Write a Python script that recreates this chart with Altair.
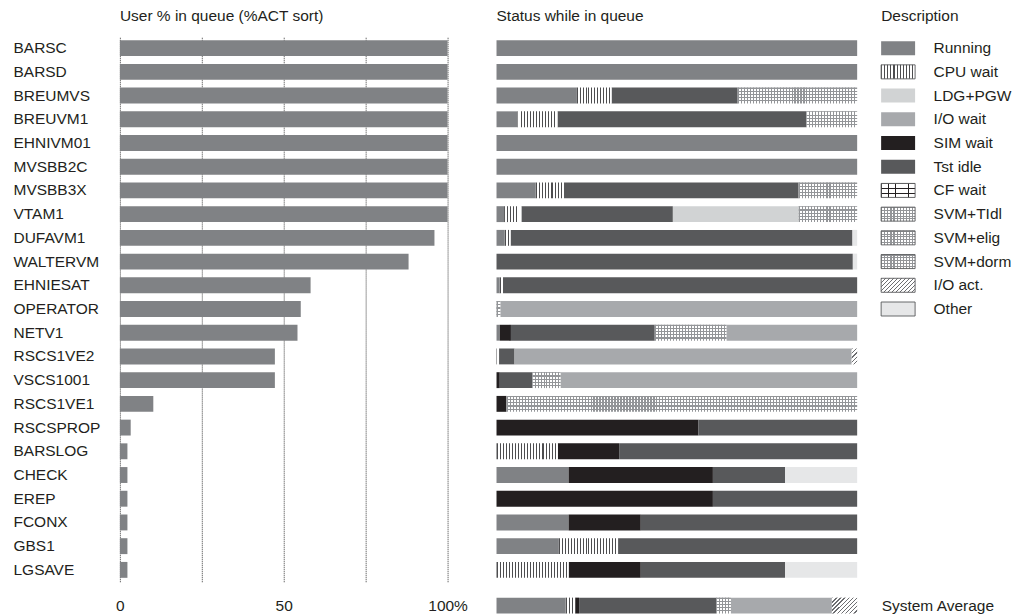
import altair as alt
import pandas as pd

# ---------------- data ----------------
users = ["BARSC", "BARSD", "BREUMVS", "BREUVM1", "EHNIVM01", "MVSBB2C", "MVSBB3X", "VTAM1",
         "DUFAVM1", "WALTERVM", "EHNIESAT", "OPERATOR", "NETV1", "RSCS1VE2", "VSCS1001",
         "RSCS1VE1", "RSCSPROP", "BARSLOG", "CHECK", "EREP", "FCONX", "GBS1", "LGSAVE"]
pct_in_queue = [100, 100, 100, 100, 100, 100, 100, 100, 96.0, 88.1, 58.2, 55.2, 54.2,
                47.3, 47.3, 10.2, 3.3, 2.3, 2.3, 2.3, 2.3, 2.3, 2.3]
x_ticks = [0, 25, 50, 75, 100]

status_names = ["Running", "CPU wait", "LDG+PGW", "I/O wait", "SIM wait", "Tst idle",
                "CF wait", "SVM+TIdl", "SVM+elig", "SVM+dorm", "I/O act.", "Other"]
status_fill = ["#808285", "#ffffff", "#d1d3d4", "#a7a9ac", "#231f20", "#58595b",
               "#ffffff", "#ffffff", "#ffffff", "#ffffff", "#ffffff", "#e6e7e8"]

status_segments = [
    [("Running", 100)],                                                        # BARSC
    [("Running", 100)],                                                        # BARSD
    [("Running", 22.3), ("CPU wait", 9.6), ("Tst idle", 35.0), ("SVM+TIdl", 33.1)],  # BREUMVS
    [("Running", 5.8), ("CPU wait", 11.1), ("Tst idle", 69.0), ("SVM+TIdl", 14.1)],  # BREUVM1
    [("Running", 100)],                                                        # EHNIVM01
    [("Running", 100)],                                                        # MVSBB2C
    [("Running", 10.9), ("CPU wait", 7.8), ("Tst idle", 65.1), ("SVM+TIdl", 16.2)],  # MVSBB3X
    [("Running", 2.1), ("CPU wait", 4.8), ("Tst idle", 42.0), ("LDG+PGW", 34.9), ("SVM+TIdl", 16.2)],  # VTAM1
    [("Running", 2.3), ("CPU wait", 1.6), ("Tst idle", 94.8), ("Other", 1.3)],  # DUFAVM1
    [("Tst idle", 98.8), ("Other", 1.2)],                                      # WALTERVM
    [("Running", 0.9), ("CPU wait", 0.9), ("Tst idle", 98.2)],                 # EHNIESAT
    [("SVM+elig", 1.1), ("I/O wait", 98.9)],                                   # OPERATOR
    [("Running", 0.9), ("SIM wait", 3.1), ("Tst idle", 39.9), ("SVM+elig", 19.9), ("I/O wait", 36.2)],  # NETV1
    [("CPU wait", 0.7), ("Tst idle", 4.3), ("I/O wait", 93.5), ("I/O act.", 1.5)],  # RSCS1VE2
    [("SIM wait", 0.9), ("Tst idle", 9.0), ("SVM+elig", 7.9), ("I/O wait", 82.2)],  # VSCS1001
    [("SIM wait", 2.8), ("SVM+dorm", 97.2)],                                   # RSCS1VE1
    [("SIM wait", 56.0), ("Tst idle", 44.0)],                                  # RSCSPROP
    [("CPU wait", 17.0), ("SIM wait", 17.0), ("Tst idle", 66.0)],              # BARSLOG
    [("Running", 20.0), ("SIM wait", 40.0), ("Tst idle", 20.0), ("Other", 20.0)],  # CHECK
    [("SIM wait", 60.0), ("Tst idle", 40.0)],                                  # EREP
    [("Running", 20.0), ("SIM wait", 20.0), ("Tst idle", 60.0)],               # FCONX
    [("Running", 17.3), ("CPU wait", 16.4), ("Tst idle", 66.3)],               # GBS1
    [("CPU wait", 20.0), ("SIM wait", 20.0), ("Tst idle", 40.0), ("Other", 20.0)],  # LGSAVE
]
avg_label = "System Average"
avg_segments = [("Running", 19.2), ("CPU wait", 2.6), ("SIM wait", 1.1), ("Tst idle", 38.0),
                ("SVM+elig", 4.1), ("I/O wait", 28.0), ("I/O act.", 7.0)]

# ---------------- styling ----------------
W1, W2, H = 328, 361, 546
COL_GAP = 24
W1_CELL = 353                      # left cell incl. blank gutter before the status panel
X1_MAX = 100.0 * W1_CELL / W1      # domain end so that 100 % falls at W1
STEP = H / len(users)
PAD = 0.33
LEG_PAD = 0.41
FONT = "Liberation Sans"
FS = 15.5
INK = "#231f20"
CLEAR = "rgba(255,255,255,0)"
CPU_LINE = "#4d4d4f"
SVM_LINE = "#939598"
ACT_LINE = "#6d6e71"
CF_LINE = "#231f20"


def make_df(labels, seglists):
    rows = []
    for u, segs in zip(labels, seglists):
        s = 0.0
        for k, (st, p) in enumerate(segs):
            rows.append({"user": u, "status": st, "pct": p, "start": s, "end": s + p, "order": k})
            s += p
    return pd.DataFrame(rows)


top_df = make_df(users, status_segments)
avg_df = make_df([avg_label], [avg_segments])
left_df = pd.DataFrame({"user": users, "pct": pct_in_queue})
legend_df = pd.DataFrame({"status": status_names})


def grad(stops, x2, y2):
    return alt.LinearGradient(
        gradient="linear", x1=0, y1=0, x2=x2, y2=y2,
        stops=[alt.GradientStop(offset=min(1.0, round(o, 5)), color=c) for o, c in stops])


def stripe_stops(n, line, bg, frac):
    st = []
    for i in range(n):
        a = i / n
        b = (i + frac) / n
        c = (i + 1) / n
        st += [(a, line), (b, line), (b, bg), (c, bg)]
    return st


def diag_grad(w, h, line, bg, pitch=4.0):
    r = h / w
    s = (1 + r) / (1 + r * r)
    n = max(1, int(round((w + h) / pitch)))
    return grad(stripe_stops(n, line, bg, 0.35), s, s * r)


def pattern_keys(status, px, h):
    keys = []
    if status == "CPU wait":
        keys.append(("v", max(1, int(round(px / 3.0))), CPU_LINE, "#ffffff", 0.34))
    elif status.startswith("SVM"):
        keys.append(("v", max(1, int(round(px / 3.0))), SVM_LINE, CLEAR, 0.36))
        keys.append(("h", max(1, int(round(h / 3.1))), SVM_LINE, CLEAR, 0.36))
    elif status == "I/O act.":
        keys.append(("d", round(px, 2), round(h, 2), ACT_LINE, "#ffffff"))
    elif status == "CF wait":
        keys.append(("h", 3, CF_LINE, "#ffffff", 0.2))
        keys.append(("v", 5, CF_LINE, CLEAR, 0.12))
    return keys


def key_grad(k):
    if k[0] == "v":
        return grad(stripe_stops(k[1], k[2], k[3], k[4]), 1, 0)
    if k[0] == "h":
        return grad(stripe_stops(k[1], k[2], k[3], k[4]), 0, 1)
    return diag_grad(k[1], k[2], k[3], k[4])


def pattern_groups(df, width_px, h, pct_field=None):
    groups = {}
    for _, r in df.iterrows():
        px = (r[pct_field] * width_px / 100.0) if pct_field else width_px
        for k in pattern_keys(r["status"], px, h):
            groups.setdefault(k, []).append(r)
    return [(k, pd.DataFrame(rs)) for k, rs in groups.items()]


color_enc = alt.Color("status:N", scale=alt.Scale(domain=status_names, range=status_fill), legend=None)


def x_enc():
    return alt.X("start:Q", scale=alt.Scale(domain=[0, 100], nice=False, clamp=True), axis=None)


def title(text):
    return alt.Title(text, anchor="start", frame="group", fontSize=FS, fontWeight="normal",
                     color=INK, font=FONT, offset=12)


# ---------------- left panel ----------------
left = alt.Chart(left_df).mark_bar(color="#808285").encode(
    x=alt.X("pct:Q", scale=alt.Scale(domain=[0, X1_MAX], nice=False, zero=True),
            axis=alt.Axis(values=x_ticks, title=None, grid=True, gridDash=[1, 1], gridColor="#3c3c3c",
                          gridWidth=1, ticks=False, tickSize=0, domain=False, labelPadding=17,
                          labelFlush=False, labelOverlap=False, labelFontSize=FS, labelColor=INK,
                          labelExpr="datum.value == 100 ? '100%' : ((datum.value == 25 || datum.value == 75) ? '' : datum.label)")),
    y=alt.Y("user:N", scale=alt.Scale(domain=users, paddingInner=PAD, paddingOuter=PAD / 2),
            axis=alt.Axis(title=None, ticks=False, domain=False, labelAlign="left", labelPadding=107,
                          labelFontSize=FS, labelColor=INK)),
).properties(width=W1_CELL, height=H, title=title("User % in queue (%ACT sort)"))


# ---------------- middle panels ----------------
def status_panel(df, labels, height, axis):
    y = alt.Y("user:N", scale=alt.Scale(domain=labels, paddingInner=PAD, paddingOuter=PAD / 2), axis=axis)
    base = alt.Chart(df).mark_bar().encode(x=x_enc(), x2="end:Q", y=y, color=color_enc)
    layers = [base]
    bar_h = STEP * (1 - PAD)
    for k, sub in pattern_groups(df, W2, bar_h, "pct"):
        layers.append(alt.Chart(sub).mark_bar(fill=key_grad(k)).encode(x=x_enc(), x2="end:Q", y=y))
    return alt.layer(*layers).properties(width=W2, height=height)


mid_top = status_panel(top_df, users, H, None).properties(title=title("Status while in queue"))
mid_bottom = status_panel(
    avg_df, [avg_label], STEP,
    alt.Axis(orient="right", title=None, ticks=False, domain=False, labelAlign="left",
             labelPadding=24, labelFontSize=FS, labelColor=INK))

# ---------------- legend panel ----------------
LEG_W = 34
leg_y = alt.Y("status:N", scale=alt.Scale(domain=status_names, paddingInner=LEG_PAD, paddingOuter=LEG_PAD / 2),
              axis=alt.Axis(orient="right", title=None, ticks=False, domain=False, labelAlign="left",
                            labelPadding=18, labelFontSize=FS, labelColor=INK))
leg_x = alt.XDatum(0, type="quantitative", scale=alt.Scale(domain=[0, 1], nice=False), axis=None)
leg_x2 = alt.X2Datum(1)
leg_layers = [alt.Chart(legend_df).mark_rect().encode(x=leg_x, x2=leg_x2, y=leg_y, color=color_enc)]
leg_h = STEP * (1 - LEG_PAD)
for k, sub in pattern_groups(legend_df, LEG_W, leg_h):
    leg_layers.append(alt.Chart(sub).mark_rect(fill=key_grad(k)).encode(x=leg_x, x2=leg_x2, y=leg_y))
bordered = legend_df[legend_df["status"].isin(["CPU wait", "CF wait", "SVM+TIdl", "SVM+elig",
                                               "SVM+dorm", "I/O act.", "Other"])]
leg_layers.append(alt.Chart(bordered).mark_rect(fillOpacity=0, stroke="#58595b", strokeWidth=0.9)
                  .encode(x=leg_x, x2=leg_x2, y=leg_y))
legend = alt.layer(*leg_layers).properties(width=LEG_W, height=STEP * len(status_names),
                                           title=title("Description"))


# ---------------- blank grid cells ----------------
def blank():
    return alt.Chart(pd.DataFrame({"v": [0]})).mark_point(opacity=0, size=1).encode(
        x=alt.value(0), y=alt.value(0)).properties(width=1, height=STEP)


chart = alt.concat(
    left, mid_top, legend,
    blank(), mid_bottom, blank(),
    columns=3, spacing={"row": 12, "column": COL_GAP}, bounds="flush"
).properties(
    padding={"left": 5, "top": 0, "right": 5, "bottom": 0}
).configure(font=FONT).configure_view(stroke=None).configure_axis(labelFont=FONT)

chart.save("out.html", embed_options={"renderer": "svg", "actions": False})
